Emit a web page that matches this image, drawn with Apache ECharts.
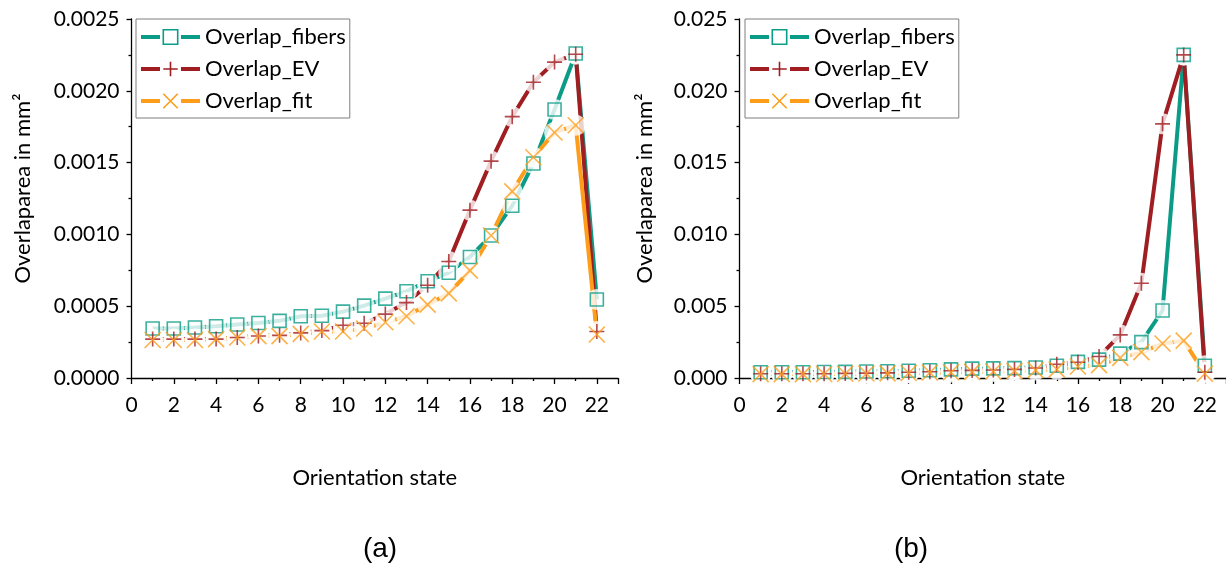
<!DOCTYPE html>
<html>
<head>
<meta charset="utf-8">
<title>Overlaparea per orientation state</title>
<script src="https://cdn.jsdelivr.net/npm/echarts@6/dist/echarts.min.js"></script>
<style>
  html, body { margin: 0; padding: 0; background: #fff; }
  #chart { width: 1226px; height: 570px; }
</style>
</head>
<body>
<div id="chart"></div>
<script>
// orientation states on the x axis
const states = [1, 2, 3, 4, 5, 6, 7, 8, 9, 10, 11, 12, 13, 14, 15, 16, 17, 18, 19, 20, 21, 22];

// panel (a)
const fibersA = [0.000345, 0.000345, 0.000352, 0.00036, 0.000373, 0.000383, 0.000398, 0.00043, 0.000434, 0.000462, 0.000504,
  0.000553, 0.000604, 0.000674, 0.000733, 0.000843, 0.000992, 0.0012, 0.001494, 0.00187, 0.00226, 0.000547];
const evA = [0.000271, 0.000271, 0.000271, 0.000271, 0.000282, 0.000292, 0.000297, 0.000314, 0.00033, 0.000367, 0.000381,
  0.000445, 0.000525, 0.000646, 0.000811, 0.001169, 0.00151, 0.00182, 0.00206, 0.0022, 0.002255, 0.000324];
const fitA = [0.000265, 0.000265, 0.000265, 0.000271, 0.000282, 0.000292, 0.000292, 0.000307, 0.000324, 0.000324, 0.000345,
  0.000388, 0.00043, 0.000511, 0.000589, 0.000748, 0.000992, 0.0013, 0.001537, 0.00171, 0.00176, 0.000303];

// panel (b)
const fibersB = [0.0004, 0.0004, 0.0004, 0.00042, 0.00043, 0.00045, 0.00047, 0.0005, 0.00054, 0.0006, 0.00065,
  0.00067, 0.00069, 0.00073, 0.00085, 0.00112, 0.00128, 0.0017, 0.0025, 0.0047, 0.0225, 0.00085];
const evB = [0.0003, 0.0003, 0.0003, 0.0003, 0.00032, 0.00034, 0.00036, 0.0004, 0.00044, 0.0005, 0.00053,
  0.00056, 0.0006, 0.0007, 0.00096, 0.0011, 0.0015, 0.003, 0.0066, 0.0177, 0.0225, 0.0004];
const fitB = [0.00027, 0.00027, 0.00027, 0.00028, 0.0003, 0.00031, 0.00032, 0.00035, 0.00038, 0.0004, 0.00043,
  0.00045, 0.0005, 0.00055, 0.0006, 0.0008, 0.0009, 0.0014, 0.0018, 0.0024, 0.0026, 0.0003];

// axis ranges
const yMaxA = 0.0025, yStepA = 0.0005;
const yMaxB = 0.025, yStepB = 0.005;
const seriesNames = ['Overlap_fibers', 'Overlap_EV', 'Overlap_fit'];
const panelLabels = ['(a)', '(b)'];

const FONT = 'Lato';
const colors = ['#0a9c86', '#a01d22', '#fd9d1a'];
const symbols = ['rect', 'path://M0,6L12,6M6,0L6,12', 'path://M0,0L12,12M12,0L0,12'];
const symbolSizes = [13, 15, 16];

const pairs = vals => states.map((s, i) => [s, vals[i]]);

// one panel: line + white gap round each point + hollow marker (like Origin does)
function panelSeries(g, valueSets) {
  let out = [];
  valueSets.forEach((vals, k) => {
    out.push({
      type: 'line', name: seriesNames[k], xAxisIndex: g, yAxisIndex: g,
      data: pairs(vals), symbol: symbols[k], symbolSize: symbolSizes[k], showSymbol: false,
      lineStyle: { color: colors[k], width: 4 }, itemStyle: { color: colors[k] },
      z: 2, silent: true, animation: false
    });
  });
  valueSets.forEach((vals, k) => {
    out.push({
      type: 'scatter', name: seriesNames[k] + ' gap', xAxisIndex: g, yAxisIndex: g,
      data: pairs(vals), symbol: 'circle', symbolSize: 21,
      itemStyle: { color: '#fff' }, z: 3, silent: true, animation: false
    });
  });
  valueSets.forEach((vals, k) => {
    out.push({
      type: 'scatter', name: seriesNames[k] + ' marker', xAxisIndex: g, yAxisIndex: g,
      data: pairs(vals), symbol: symbols[k], symbolSize: symbolSizes[k],
      itemStyle: { color: 'none', borderColor: colors[k], borderWidth: 1.6 },
      z: 4, silent: true, animation: false
    });
  });
  return out;
}

const axisLineStyle = { color: '#000', width: 1.3 };

function xAxisOf(g) {
  return {
    gridIndex: g, type: 'value', min: 0, max: 23, interval: 2,
    name: 'Orientation state', nameLocation: 'middle', nameGap: 89,
    nameTextStyle: { fontFamily: FONT, fontSize: 22, color: '#000' },
    axisLine: { onZero: false, lineStyle: axisLineStyle },
    axisTick: { show: true, length: 6, lineStyle: axisLineStyle },
    minorTick: { show: true, splitNumber: 2, length: 3, lineStyle: axisLineStyle },
    axisLabel: { showMaxLabel: false, fontFamily: FONT, fontSize: 21, color: '#000', margin: 17 },
    splitLine: { show: false }
  };
}

function yAxisOf(g, max, step, dec, gap) {
  return {
    gridIndex: g, type: 'value', min: 0, max: max, interval: step,
    name: 'Overlaparea in mm²', nameLocation: 'middle', nameGap: gap, nameRotate: 90,
    nameTextStyle: { fontFamily: FONT, fontSize: 22, color: '#000', padding: [0, 0, 0, 20] },
    axisLine: { show: true, onZero: false, lineStyle: axisLineStyle },
    axisTick: { show: true, length: 5, lineStyle: axisLineStyle },
    minorTick: { show: true, splitNumber: 2, length: 3, lineStyle: axisLineStyle },
    axisLabel: { formatter: v => v.toFixed(dec), fontFamily: FONT, fontSize: 21, color: '#000', margin: 12 },
    splitLine: { show: false }
  };
}

function legendOf(left) {
  return {
    orient: 'vertical', left: left, top: 19, selectedMode: false,
    data: seriesNames.map((n, k) => ({
      name: n,
      itemStyle: { color: '#fff', borderColor: colors[k], borderWidth: 1.6 },
      lineStyle: { color: colors[k], width: 4, type: [19, 21] }
    })),
    itemWidth: 59, itemHeight: 18, itemGap: 10, padding: [7, 4, 6, 3],
    backgroundColor: '#fff', borderColor: '#7f7f7f', borderWidth: 1, borderRadius: 0,
    itemStyle: { color: '#fff', borderWidth: 1.6 },
    lineStyle: { width: 4, type: [19, 21] },
    textStyle: { fontFamily: FONT, fontSize: 22, color: '#000' }
  };
}

const chart = echarts.init(document.getElementById('chart'));
chart.setOption({
  backgroundColor: '#fff',
  animation: false,
  grid: [
    { left: 131.5, top: 19, width: 486.5, height: 359, containLabel: false, outerBoundsMode: 'none' },
    { left: 739.5, top: 19, width: 486.5, height: 359, containLabel: false, outerBoundsMode: 'none' }
  ],
  legend: [legendOf(136), legendOf(745)],
  xAxis: [xAxisOf(0), xAxisOf(1)],
  yAxis: [yAxisOf(0, yMaxA, yStepA, 4, 98), yAxisOf(1, yMaxB, yStepB, 3, 84)],
  series: [].concat(panelSeries(0, [fibersA, evA, fitA]), panelSeries(1, [fibersB, evB, fitB])),
  graphic: [
    { type: 'text', x: 380, y: 549, silent: true,
      style: { text: panelLabels[0], fill: '#000', font: '28px "Liberation Sans", Arial', textAlign: 'center', textVerticalAlign: 'middle', align: 'center', verticalAlign: 'middle' } },
    { type: 'text', x: 911, y: 549, silent: true,
      style: { text: panelLabels[1], fill: '#000', font: '28px "Liberation Sans", Arial', textAlign: 'center', textVerticalAlign: 'middle', align: 'center', verticalAlign: 'middle' } }
  ]
});
</script>
</body>
</html>
